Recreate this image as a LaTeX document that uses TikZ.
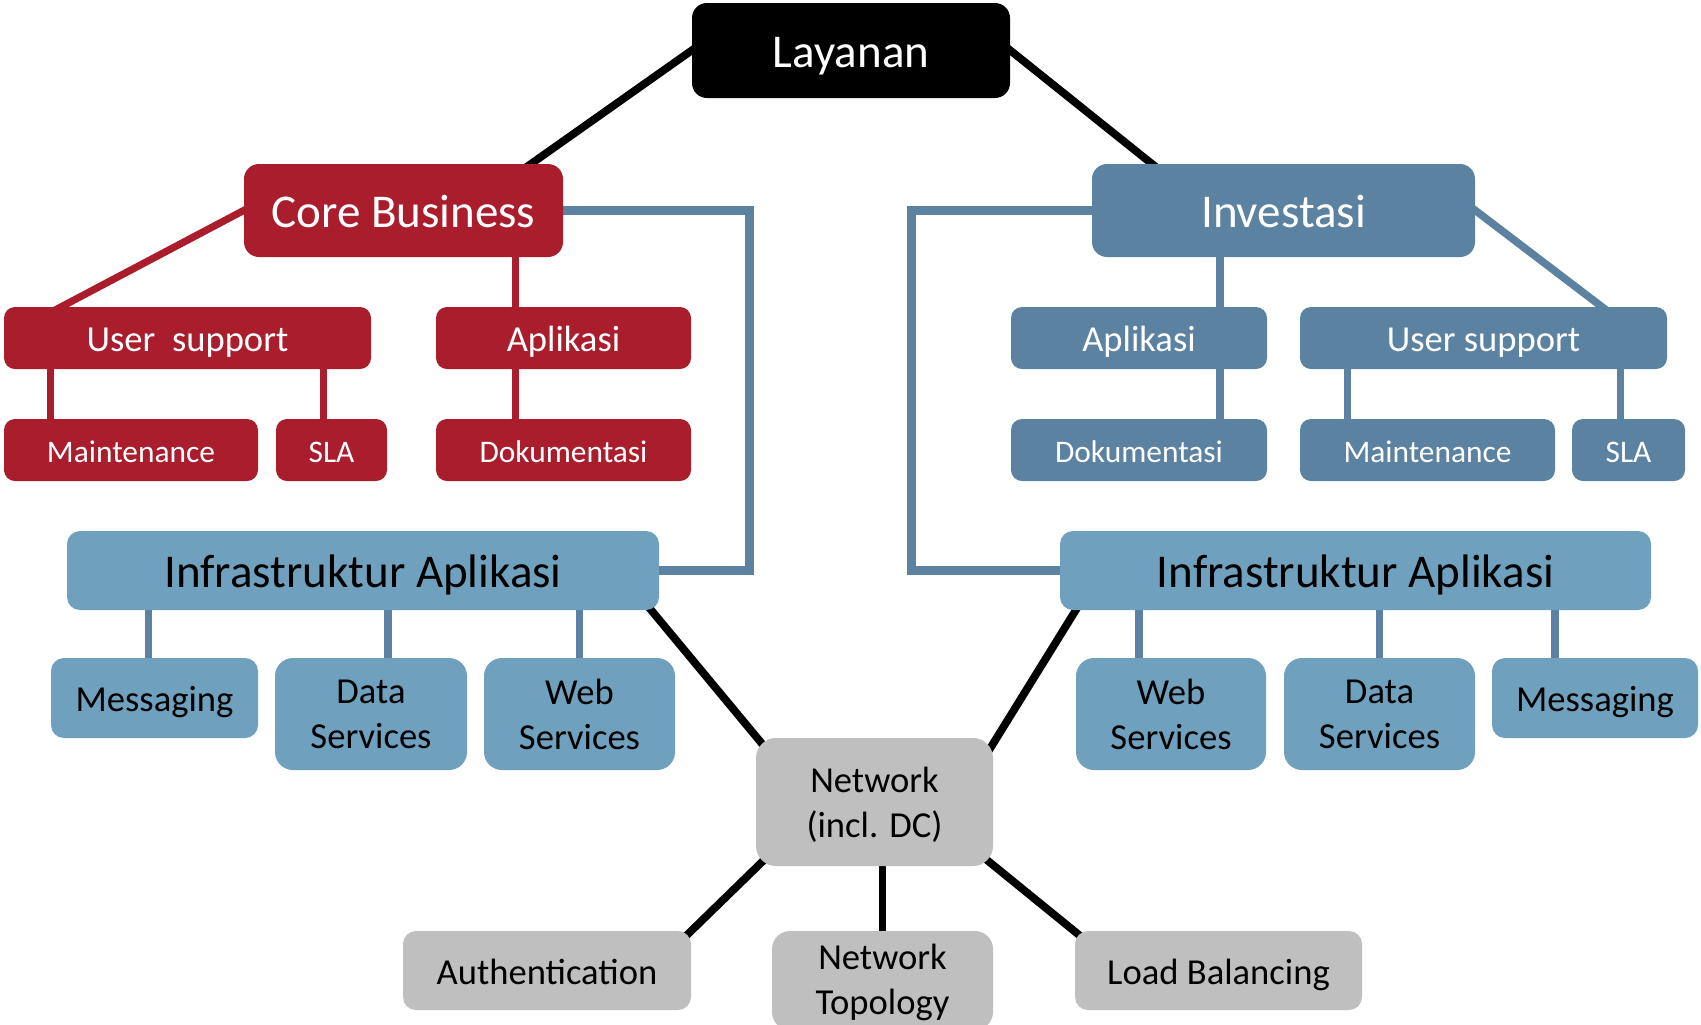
\documentclass[tikz,border=0pt]{standalone}
\usepackage{fontspec}
\setmainfont{Carlito}
\usetikzlibrary{backgrounds}
\definecolor{cbred}{RGB}{169,29,45}
\definecolor{dkblue}{RGB}{91,130,160}
\definecolor{ltblue}{RGB}{111,161,190}
\definecolor{gry}{RGB}{191,191,191}
\begin{document}
\begin{tikzpicture}[x=0.5pt,y=-0.5pt,
  box/.style={rectangle, rounded corners=6.5pt, inner sep=0pt, align=center, text depth=0pt},
  blackbox/.style={box, fill=black, text=white},
  redbox/.style={box, fill=cbred, text=white},
  dbbox/.style={box, fill=dkblue, text=white},
  lbbox/.style={box, fill=ltblue, text=black},
  greybox/.style={box, fill=gry, text=black},
  fbig/.style={font=\fontsize{23.5}{28}\selectfont, text height=17.1pt},
  fmed/.style={font=\fontsize{18.3}{22.5}\selectfont, text height=13.8pt},
  fmedtwo/.style={font=\fontsize{18.3}{22.5}\selectfont, text height={}, text depth=-4pt},
  fsml/.style={font=\fontsize{15.7}{19}\selectfont, text height=12.1pt},
  blk/.style={draw=black, line width=3.9pt},
  redln/.style={draw=cbred, line width=3.6pt},
  blueln/.style={draw=dkblue, line width=3.8pt},
  blueL/.style={draw=dkblue, line width=4.2pt},
  ext/.style={shorten <=-8pt, shorten >=-8pt}
]
\useasboundingbox (0,0) rectangle (1701,1024);

% top
\node[blackbox, fbig, rounded corners=7.5pt, minimum width=159pt, minimum height=47.5pt] (lay) at (851,50.5) {Layanan};
\node[redbox, fbig, rounded corners=7.5pt, minimum width=159.5pt, minimum height=46.5pt] (cb) at (403.5,210.5) {Core Business};
\node[dbbox, fbig, rounded corners=7.5pt, minimum width=191.5pt, minimum height=46.5pt] (inv) at (1283.5,210.5) {Investasi};

% red rows
\node[redbox, fmed, rounded corners=5.5pt, minimum width=183.5pt, minimum height=31pt] (rus) at (187.5,338) {User\ \ support};
\node[redbox, fmed, rounded corners=5.5pt, minimum width=127.5pt, minimum height=31pt] (rap) at (563.5,338) {Aplikasi};
\node[redbox, fsml, rounded corners=5.5pt, minimum width=127pt, minimum height=31pt] (rmt) at (131,450) {Maintenance};
\node[redbox, fsml, rounded corners=5.5pt, minimum width=55.5pt, minimum height=31pt] (rsla) at (331.5,450) {SLA};
\node[redbox, fsml, rounded corners=5.5pt, minimum width=127.5pt, minimum height=31pt] (rdok) at (563.5,450) {Dokumentasi};

% blue rows
\node[dbbox, fmed, rounded corners=5.5pt, minimum width=128pt, minimum height=31pt] (bap) at (1139,338) {Aplikasi};
\node[dbbox, fmed, rounded corners=5.5pt, minimum width=183.5pt, minimum height=31pt] (bus) at (1483.5,338) {User support};
\node[dbbox, fsml, rounded corners=5.5pt, minimum width=128pt, minimum height=31pt] (bdok) at (1139,450) {Dokumentasi};
\node[dbbox, fsml, rounded corners=5.5pt, minimum width=127.5pt, minimum height=31pt] (bmt) at (1427.5,450) {Maintenance};
\node[dbbox, fsml, rounded corners=5.5pt, minimum width=56.5pt, minimum height=31pt] (bsla) at (1628.5,450) {SLA};

% infrastructure
\node[lbbox, fbig, minimum width=296pt, minimum height=39.5pt] (linf) at (363,570.5) {Infrastruktur Aplikasi};
\node[lbbox, fbig, minimum width=295.5pt, minimum height=39.5pt] (rinf) at (1355.5,570.5) {Infrastruktur Aplikasi};

\node[lbbox, fmed, minimum width=103.5pt, minimum height=40pt] (lmsg) at (154.5,698) {Messaging};
\node[lbbox, fmedtwo, rounded corners=9pt, minimum width=96pt, minimum height=56pt] (ldata) at (371,714) {Data\\Services};
\node[lbbox, fmedtwo, rounded corners=9pt, minimum width=95.5pt, minimum height=56pt] (lweb) at (579.5,714) {Web\\Services};
\node[lbbox, fmedtwo, rounded corners=9pt, minimum width=95pt, minimum height=56pt] (rweb) at (1171,714) {Web\\Services};
\node[lbbox, fmedtwo, rounded corners=9pt, minimum width=95.5pt, minimum height=56pt] (rdata) at (1379.5,714) {Data\\Services};
\node[lbbox, fmed, minimum width=103pt, minimum height=40pt] (rmsg) at (1595,698) {Messaging};

% network
\node[greybox, fmedtwo, text depth=-1.5pt, rounded corners=10pt, minimum width=118.5pt, minimum height=64pt] (net) at (874.5,802) {Network\\(incl. DC)};
\node[greybox, fmed, minimum width=144pt, minimum height=39.5pt] (auth) at (547,970.5) {Authentication};
\node[greybox, fmedtwo, text depth=1pt, rounded corners=9pt, minimum width=110.5pt, minimum height=49.5pt] (topo) at (882.5,980.5) {Network\\Topology};
\node[greybox, fmed, minimum width=143.5pt, minimum height=39.5pt] (lb) at (1218.5,970.5) {Load Balancing};

\begin{pgfonlayer}{background}
\fill[white] (0,0) rectangle (1701,1024);
% black
\draw[blk, ext] (lay.west) -- ([xshift=-16pt]cb.north east);
\draw[blk, ext] (lay.east) -- ([xshift=30pt]inv.north west);
\draw[blk, ext] ([xshift=-4pt]linf.south east) -- ([xshift=4pt,yshift=-4pt]net.north west);
\draw[blk, ext] ([xshift=8pt]rinf.south west) -- ([xshift=-2pt,yshift=-6pt]net.north east);
\draw[blk, ext] ([xshift=4pt,yshift=3pt]net.south west) -- ([xshift=-2pt,yshift=-2pt]auth.north east);
\draw[blk] (topo.north) -- (topo.north |- net.south);
\draw[blk, ext] ([xshift=-3pt,yshift=3pt]net.south east) -- ([xshift=2pt,yshift=-2pt]lb.north west);
% red
\draw[redln, ext] (cb.west) -- ([xshift=29pt]rus.north west);
\draw[redln] ([xshift=56pt]cb.center) -- ([xshift=56pt]cb.center |- rdok.center);
\draw[redln] ([xshift=23.5pt]rus.south west) -- ([xshift=23.5pt]rus.south west |- rmt.center);
\draw[redln] ([xshift=160pt]rus.south west) -- ([xshift=160pt]rus.south west |- rsla.center);
% blue
\draw[blueln] ([xshift=-31.75pt]inv.center) -- ([xshift=-31.75pt]inv.center |- bdok.center);
\draw[blueln, ext] (inv.east) -- ([xshift=151pt]bus.north west);
\draw[blueln] ([xshift=24pt]bus.south west) -- ([xshift=24pt]bus.south west |- bmt.center);
\draw[blueln] ([xshift=160.5pt]bus.south west) -- ([xshift=160.5pt]bus.south west |- bsla.center);
% L connectors
\draw[blueL] (cb.center) -- (cb.east) -- ++(93pt,0) |- (linf.east);
\draw[blueL] (inv.center) -- (inv.west) -- ++(-90pt,0) |- (rinf.west);
% infrastructure children
\draw[blueln] ([xshift=-3pt]lmsg.center) -- ([xshift=-3pt]lmsg.center |- linf.center);
\draw[blueln] ([xshift=8.5pt]ldata.center) -- ([xshift=8.5pt]ldata.center |- linf.center);
\draw[blueln] (lweb.center) -- (lweb.center |- linf.center);
\draw[blueln] ([xshift=-16pt]rweb.center) -- ([xshift=-16pt]rweb.center |- rinf.center);
\draw[blueln] (rdata.center) -- (rdata.center |- rinf.center);
\draw[blueln] ([xshift=-20pt]rmsg.center) -- ([xshift=-20pt]rmsg.center |- rinf.center);
\end{pgfonlayer}
\end{tikzpicture}
\end{document}
